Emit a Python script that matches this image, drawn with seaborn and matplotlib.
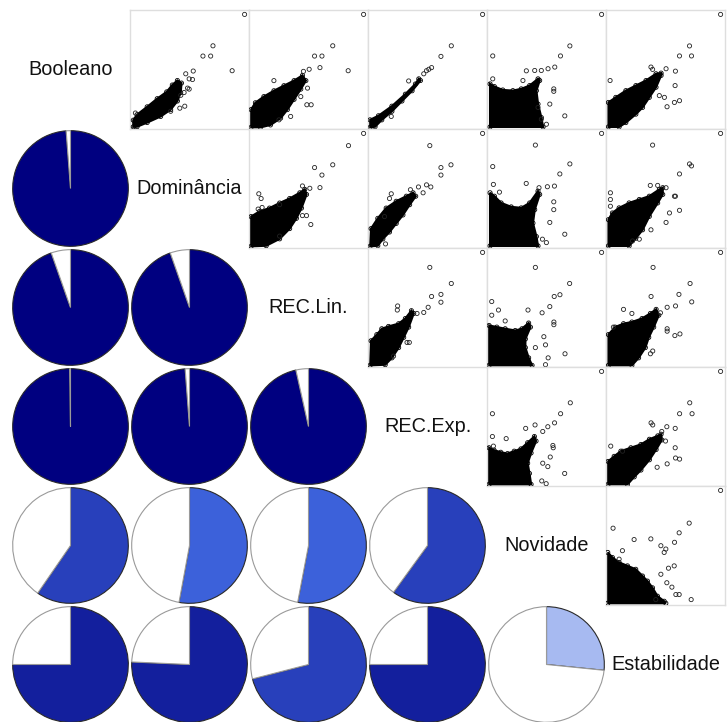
import numpy as np
import matplotlib
matplotlib.use("Agg")
import matplotlib.pyplot as plt
from matplotlib.colors import LinearSegmentedColormap
import seaborn as sns

# Variable names shown on the diagonal
labels = ["Booleano", "Dominância", "REC.Lin.", "REC.Exp.", "Novidade", "Estabilidade"]

# Correlations drawn as pies in the lower triangle (row, col) -> r
cor_row = [1, 2, 2, 3, 3, 3, 4, 4, 4, 4, 5, 5, 5, 5, 5]
cor_col = [0, 0, 1, 0, 1, 2, 0, 1, 2, 3, 0, 1, 2, 3, 4]
cor_val = [0.988, 0.946, 0.946, 0.998, 0.988, 0.965,
           0.596, 0.529, 0.530, 0.600,
           0.750, 0.757, 0.710, 0.750, 0.266]

# Upper-triangle scatter panels, values scaled to each variable's range.
# *_blob: outline of the dense core of points; *_pts: the individual points outside it.
bool_dom_blob = [(-0.01, -0.02), (-0.01, 0.04), (0.024, 0.09), (0.116, 0.161), (0.207, 0.235),
                 (0.293, 0.297), (0.344, 0.359), (0.39, 0.40), (0.427, 0.377), (0.42, 0.29),
                 (0.39, 0.214), (0.329, 0.136), (0.238, 0.074), (0.116, 0.019), (0.024, -0.019)]
bool_dom_pts = [(1, 1), (0.713, 0.715), (0.622, 0.622), (0.692, 0.622), (0.887, 0.489),
                (0.466, 0.461), (0.534, 0.486), (0.497, 0.415), (0.527, 0.409), (0.482, 0.331),
                (0.457, 0.167), (0.412, 0.149), (0.421, 0.266), (0.451, 0.291), (0.497, 0.322),
                (0.009, 0.105), (0.329, 0.121)]

bool_lin_blob = [(-0.021, -0.025), (-0.021, 0.136), (0.018, 0.198), (0.095, 0.254), (0.186, 0.307),
                 (0.277, 0.353), (0.369, 0.399), (0.445, 0.446), (0.476, 0.399), (0.43, 0.322),
                 (0.369, 0.229), (0.308, 0.136), (0.247, 0.059), (0.155, -0.003), (0.064, -0.025)]
bool_lin_pts = [(1, 1), (0.72, 0.715), (0.555, 0.622), (0.622, 0.622), (0.86, 0.489),
                (0.604, 0.517), (0.506, 0.502), (0.454, 0.483), (0.186, 0.399), (0.491, 0.331),
                (0.485, 0.18), (0.524, 0.18), (0.43, 0.254), (0.338, 0.074), (0.232, 0.043)]

bool_exp_blob = [(-0.021, -0.025), (-0.021, 0.043), (0.055, 0.08), (0.177, 0.167), (0.299, 0.276),
                 (0.39, 0.368), (0.421, 0.415), (0.436, 0.4), (0.36, 0.307), (0.268, 0.214),
                 (0.177, 0.121), (0.085, 0.043), (0.024, -0.019)]
bool_exp_pts = [(1, 1), (0.716, 0.715), (0.622, 0.619), (0.537, 0.517), (0.512, 0.502),
                (0.491, 0.489), (0.466, 0.461), (0.329, 0.396), (0.171, 0.074)]

bool_nov_blob = [(-0.012, -0.021), (-0.012, 0.369), (0.027, 0.345), (0.103, 0.314), (0.195, 0.308),
                 (0.271, 0.324), (0.347, 0.354), (0.423, 0.415), (0.438, 0.4), (0.408, 0.308),
                 (0.423, 0.186), (0.453, 0.064), (0.469, -0.021)]
bool_nov_pts = [(1, 1), (0.712, 0.714), (0.627, 0.623), (0.575, 0.522), (0.514, 0.507),
                (0.453, 0.491), (0.393, 0.491), (0.317, 0.488), (0.012, 0.623), (0.012, 0.415),
                (0.286, 0.4), (0.566, 0.324), (0.566, 0.302), (0.666, 0.079), (0.53, 0.186),
                (0.499, 0.003), (0.453, 0.049), (0.423, 0.156)]

bool_est_blob = [(-0.018, -0.021), (-0.018, 0.201), (0.049, 0.247), (0.14, 0.308), (0.231, 0.354),
                 (0.323, 0.4), (0.414, 0.461), (0.46, 0.467), (0.46, 0.446), (0.414, 0.339),
                 (0.353, 0.247), (0.292, 0.156), (0.231, 0.095), (0.14, 0.018), (0.079, -0.021)]
bool_est_pts = [(1, 1), (0.718, 0.714), (0.736, 0.623), (0.627, 0.623), (0.368, 0.522),
                (0.383, 0.501), (0.505, 0.507), (0.59, 0.485), (-0.003, 0.4), (0.587, 0.354),
                (0.627, 0.217), (0.581, 0.201), (0.514, 0.162), (0.49, 0.247), (0.444, 0.263)]

dom_lin_blob = [(-0.021, -0.025), (-0.021, 0.245), (0.055, 0.291), (0.146, 0.322), (0.238, 0.368),
                (0.329, 0.409), (0.421, 0.461), (0.466, 0.492), (0.482, 0.446), (0.436, 0.322),
                (0.39, 0.229), (0.329, 0.136), (0.238, 0.043), (0.116, -0.019)]
dom_lin_pts = [(1, 1), (0.863, 0.889), (0.72, 0.715), (0.555, 0.69), (0.622, 0.622),
               (0.604, 0.508), (0.445, 0.523), (0.512, 0.502), (0.049, 0.452), (0.07, 0.409),
               (0.043, 0.313), (0.079, 0.328), (0.482, 0.254), (0.445, 0.254), (0.521, 0.173),
               (0.238, 0.068), (0.238, 0.353)]

dom_exp_blob = [(-0.021, -0.025), (-0.012, 0.136), (0.049, 0.229), (0.125, 0.322), (0.216, 0.384),
                (0.308, 0.43), (0.369, 0.461), (0.393, 0.43), (0.338, 0.353), (0.277, 0.26),
                (0.216, 0.183), (0.155, 0.105), (0.095, 0.043), (0.049, -0.019)]
dom_exp_pts = [(1, 1), (0.521, 0.889), (0.622, 0.69), (0.713, 0.715), (0.622, 0.622),
               (0.491, 0.533), (0.53, 0.514), (0.46, 0.461), (0.418, 0.514), (0.345, 0.489),
               (0.171, 0.452), (0.155, 0.409), (0.11, 0.245), (0.119, -0.003)]

dom_nov_blob = [(-0.012, -0.021), (-0.012, 0.461), (0.027, 0.43), (0.088, 0.369), (0.18, 0.333),
                (0.271, 0.324), (0.347, 0.369), (0.423, 0.476), (0.438, 0.446), (0.393, 0.308),
                (0.377, 0.186), (0.408, 0.064), (0.423, -0.021)]
dom_nov_pts = [(1, 1), (0.399, 0.894), (0.712, 0.723), (0.621, 0.632), (0.572, 0.522),
               (0.508, 0.516), (0.432, 0.507), (0.316, 0.546), (0.012, 0.699), (0.018, 0.537),
               (0.566, 0.379), (0.566, 0.308), (0.666, 0.085), (0.53, 0.192), (0.499, 0.009),
               (0.463, 0.04), (0.073, 0.467)]

dom_est_blob = [(-0.018, -0.021), (-0.018, 0.217), (0.018, 0.278), (0.079, 0.324), (0.17, 0.369),
                (0.262, 0.4), (0.353, 0.43), (0.444, 0.491), (0.475, 0.507), (0.475, 0.446),
                (0.429, 0.369), (0.353, 0.247), (0.292, 0.125), (0.231, 0.049), (0.17, -0.021)]
dom_est_pts = [(1, 1), (0.383, 0.894), (0.718, 0.723), (0.736, 0.705), (0.627, 0.632),
               (0.362, 0.528), (0.429, 0.528), (0.505, 0.507), (0.59, 0.43), (0.0, 0.461),
               (0.0, 0.4), (0.0, 0.339), (0.627, 0.302), (0.581, 0.43), (0.536, 0.278),
               (0.505, 0.192), (0.368, 0.125), (0.262, 0.04), (0.201, 0.024)]

lin_exp_blob = [(-0.021, -0.025), (-0.012, 0.198), (0.04, 0.254), (0.085, 0.307), (0.146, 0.328),
                (0.238, 0.353), (0.299, 0.4), (0.354, 0.471), (0.375, 0.446), (0.329, 0.322),
                (0.284, 0.229), (0.238, 0.136), (0.177, 0.043), (0.116, -0.019)]
lin_exp_pts = [(1, 1), (0.521, 0.864), (0.716, 0.718), (0.622, 0.619), (0.537, 0.6),
               (0.622, 0.548), (0.506, 0.502), (0.466, 0.455), (0.229, 0.514), (0.226, 0.477),
               (0.405, 0.446), (0.314, 0.183), (0.335, 0.183), (0.192, 0.059)]

lin_nov_blob = [(-0.021, -0.025), (-0.021, 0.337), (0.049, 0.322), (0.125, 0.307), (0.216, 0.291),
                (0.277, 0.307), (0.338, 0.359), (0.354, 0.322), (0.308, 0.214), (0.308, 0.136),
                (0.338, 0.043), (0.369, -0.025)]
lin_nov_pts = [(1, 1), (0.399, 0.864), (0.71, 0.718), (0.622, 0.616), (0.57, 0.6),
               (0.53, 0.508), (0.46, 0.452), (0.332, 0.477), (0.003, 0.554), (0.064, 0.477),
               (0.003, 0.43), (0.567, 0.368), (0.567, 0.344), (0.476, 0.235), (0.491, 0.161),
               (0.668, 0.08), (0.515, 0.043), (0.491, -0.019), (0.399, 0.136), (0.125, 0.378)]

lin_est_blob = [(-0.018, -0.025), (-0.018, 0.254), (0.043, 0.322), (0.119, 0.353), (0.195, 0.368),
                (0.287, 0.4), (0.363, 0.446), (0.415, 0.483), (0.439, 0.43), (0.393, 0.322),
                (0.348, 0.229), (0.317, 0.136), (0.256, 0.043), (0.195, -0.025)]
lin_est_pts = [(1, 1), (0.387, 0.864), (0.723, 0.718), (0.622, 0.619), (0.369, 0.6),
               (0.738, 0.551), (0.591, 0.514), (0.515, 0.502), (0.454, 0.452), (0.119, 0.483),
               (0.027, 0.322), (0.195, 0.446), (0.515, 0.307), (0.515, 0.285), (0.585, 0.245),
               (0.631, 0.26), (0.384, 0.105), (0.363, 0.08)]

exp_nov_blob = [(-0.021, -0.025), (-0.021, 0.307), (0.024, 0.285), (0.085, 0.266), (0.146, 0.254),
                (0.207, 0.276), (0.268, 0.297), (0.329, 0.353), (0.39, 0.409), (0.405, 0.368),
                (0.36, 0.26), (0.329, 0.167), (0.345, 0.074), (0.36, -0.025)]
exp_nov_pts = [(1, 1), (0.009, 0.616), (0.716, 0.715), (0.628, 0.616), (0.573, 0.533),
               (0.512, 0.498), (0.466, 0.455), (0.396, 0.514), (0.311, 0.483), (0.009, 0.409),
               (0.018, 0.322), (0.558, 0.328), (0.561, 0.307), (0.534, 0.223), (0.665, 0.074),
               (0.512, 0.136), (0.457, 0.006), (0.497, -0.019), (0.466, 0.167), (0.134, 0.39)]

exp_est_blob = [(-0.021, -0.025), (-0.021, 0.183), (0.034, 0.229), (0.095, 0.276), (0.186, 0.307),
                (0.277, 0.337), (0.354, 0.384), (0.43, 0.415), (0.46, 0.43), (0.466, 0.378),
                (0.415, 0.291), (0.354, 0.198), (0.277, 0.105), (0.216, 0.043), (0.155, -0.025)]
exp_est_pts = [(1, 1), (0.72, 0.715), (0.628, 0.616), (0.741, 0.616), (0.369, 0.533),
               (0.384, 0.514), (0.512, 0.498), (0.588, 0.483), (0.466, 0.455), (0.003, 0.322),
               (0.5, 0.368), (0.588, 0.307), (0.515, 0.161), (0.591, 0.214), (0.628, 0.204),
               (0.424, 0.13), (0.11, 0.276)]

nov_est_blob = [(-0.024, -0.024), (-0.024, 0.437), (0.018, 0.391), (0.079, 0.346), (0.155, 0.315),
                (0.23, 0.284), (0.291, 0.223), (0.336, 0.177), (0.382, 0.116), (0.427, 0.04),
                (0.488, -0.006), (0.503, -0.024)]
nov_est_pts = [(1, 1), (0.715, 0.703), (0.624, 0.615), (0.582, 0.529), (0.024, 0.657),
               (0.215, 0.554), (0.367, 0.56), (0.458, 0.498), (0.488, 0.437), (0.503, 0.468),
               (0.109, 0.453), (0.079, 0.376), (0.527, 0.294), (0.579, 0.315), (0.512, 0.162),
               (0.558, 0.122), (0.624, 0.055), (0.733, 0.009), (0.594, 0.055), (0.412, 0.009),
               (0.458, 0.239)]

upper = {
    (0, 1): (bool_dom_blob, bool_dom_pts), (0, 2): (bool_lin_blob, bool_lin_pts),
    (0, 3): (bool_exp_blob, bool_exp_pts), (0, 4): (bool_nov_blob, bool_nov_pts),
    (0, 5): (bool_est_blob, bool_est_pts), (1, 2): (dom_lin_blob, dom_lin_pts),
    (1, 3): (dom_exp_blob, dom_exp_pts), (1, 4): (dom_nov_blob, dom_nov_pts),
    (1, 5): (dom_est_blob, dom_est_pts), (2, 3): (lin_exp_blob, lin_exp_pts),
    (2, 4): (lin_nov_blob, lin_nov_pts), (2, 5): (lin_est_blob, lin_est_pts),
    (3, 4): (exp_nov_blob, exp_nov_pts), (3, 5): (exp_est_blob, exp_est_pts),
    (4, 5): (nov_est_blob, nov_est_pts),
}

# Diverging palette binned into 14 classes over [-1, 1]
ramp = LinearSegmentedColormap.from_list("corr", ["red", "salmon", "white", "royalblue", "navy"])
n_bins = 14
palette = [ramp(i / (n_bins - 1)) for i in range(n_bins)]


def corr_color(r):
    idx = int(np.ceil((r + 1) / 2 * n_bins)) - 1
    return palette[min(max(idx, 0), n_bins - 1)]


sns.set_theme(style="white")
plt.rcParams["font.family"] = ["Liberation Sans", "DejaVu Sans"]

W, H = 727, 722
fig = plt.figure(figsize=(W / 100, H / 100), dpi=100)
x0, y0, cell = 11, 10, 119


def cell_axes(i, j):
    left = (x0 + j * cell) / W
    bottom = 1 - (y0 + (i + 1) * cell) / H
    return fig.add_axes([left, bottom, cell / W, cell / H])


n = len(labels)
for i in range(n):
    # diagonal: variable name
    ax = cell_axes(i, i)
    ax.set_axis_off()
    ax.text(0.5, 0.5, labels[i], ha="center", va="center", fontsize=14.3, color="#111111",
            transform=ax.transAxes)

for (i, j), (blob, pts) in upper.items():
    ax = cell_axes(i, j)
    b = np.array(blob)
    p = np.array(pts)
    ax.fill(b[:, 0], b[:, 1], color="black", lw=1.6, zorder=2)
    sns.scatterplot(x=b[:, 0], y=b[:, 1], ax=ax, s=9, marker="o", facecolor="none",
                    edgecolor="black", linewidth=0.6, zorder=3)
    sns.scatterplot(x=p[:, 0], y=p[:, 1], ax=ax, s=9, marker="o", facecolor="none",
                    edgecolor="#222222", linewidth=0.6, zorder=3)
    ax.set_xlim(-0.04, 1.04)
    ax.set_ylim(-0.04, 1.04)
    ax.set_xticks([])
    ax.set_yticks([])
    ax.set_xlabel("")
    ax.set_ylabel("")
    for sp in ax.spines.values():
        sp.set_color("#dedede")
        sp.set_linewidth(1.0)

for i, j, r in zip(cor_row, cor_col, cor_val):
    ax = cell_axes(i, j)
    wedges, _ = ax.pie([r, 1 - r], colors=[corr_color(r), "white"], startangle=90,
                       counterclock=False, radius=0.972,
                       wedgeprops=dict(linewidth=0.8))
    wedges[0].set_edgecolor("#2a2a2a")
    wedges[1].set_edgecolor("#9a9a9a")
    ax.set_xlim(-1, 1)
    ax.set_ylim(-1, 1)
    ax.set_axis_off()

fig.savefig("out.png", dpi=100, facecolor="white")
